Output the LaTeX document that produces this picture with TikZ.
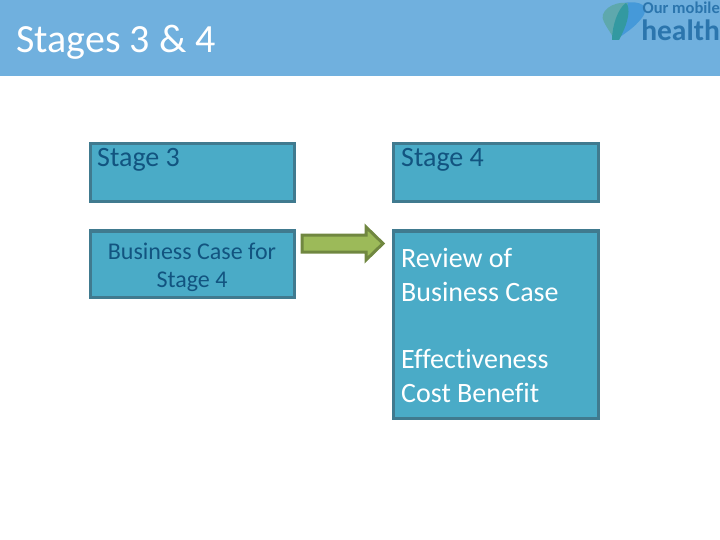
\documentclass[tikz,border=0pt]{standalone}
\usepackage{fontspec}
\setmainfont{Carlito}[Ligatures=NoCommon]
\definecolor{bannerblue}{rgb}{0.44,0.69,0.87}
\definecolor{boxfill}{rgb}{0.29,0.67,0.78}
\definecolor{boxline}{rgb}{0.25,0.48,0.56}
\definecolor{darktext}{rgb}{0.07,0.33,0.50}
\definecolor{arrowfill}{rgb}{0.61,0.73,0.35}
\definecolor{arrowline}{rgb}{0.44,0.53,0.25}
\definecolor{logoblue}{rgb}{0.17,0.46,0.68}
\definecolor{logolight}{rgb}{0.27,0.60,0.85}
\definecolor{logogreen}{rgb}{0.37,0.66,0.68}
\definecolor{logoteal}{rgb}{0.20,0.60,0.63}
\tikzset{
  stagebox/.style={draw=boxline,fill=boxfill,line width=3pt,rectangle},
  stagetext/.style={anchor=base west,inner sep=0pt,font=\fontsize{28}{32}\selectfont},
  casetext/.style={anchor=base,inner sep=0pt,text=darktext,font=\fontsize{24}{28}\selectfont},
}
\begin{document}
\begin{tikzpicture}[x=1pt,y=-1pt]
  \useasboundingbox (0,0) rectangle (720,540);
  \fill[bannerblue] (0,0) rectangle (720,76);
  \node (title) [anchor=base west,inner sep=0pt,text=white,font=\fontsize{40}{44}\selectfont] at (16,52.5) {Stages 3 \& 4};
  % logo
  \fill[logolight] (624,3) .. controls (640,0) and (652,6) .. (641,19) .. controls (634,28) and (625,33) .. (616,40) -- cycle;
  \fill[logogreen] (628,3) .. controls (612,1) and (598,12) .. (604,22) .. controls (608,30) and (612,34) .. (614,40) -- cycle;
  \fill[logoteal] (626,3) .. controls (631,8) and (628,22) .. (622,34) -- (619,40) -- (612,40) .. controls (612,26) and (618,8) .. (626,3) -- cycle;
  \node (logotop) [anchor=base east,inner sep=0pt,text=logoblue,font=\fontsize{16.5}{18}\selectfont\bfseries] at (720,14) {Our mobile};
  \node (logobottom) [anchor=base east,inner sep=0pt,text=logoblue,font=\fontsize{29.5}{34}\selectfont\bfseries] at (720,41) {health};
  % boxes
  \draw[stagebox] (90.5,143.5) rectangle (294.5,201.5);
  \draw[stagebox] (393.5,143.5) rectangle (598,201.5);
  \draw[stagebox] (90.5,231) rectangle (294.5,297.5);
  \draw[stagebox] (393.5,231) rectangle (598,418.5);
  % arrow
  \draw[line width=3pt,draw=arrowline,fill=arrowfill,line join=miter] (302,235) -- (366,235) -- (366,227) -- (383,243.5) -- (366,260) -- (366,252) -- (302,252) -- cycle;
  % texts
  \node (stagethree) [stagetext,text=darktext] at (97,167) {Stage 3};
  \node (stagefour) [stagetext,text=darktext] at (401,167) {Stage 4};
  \node (casea) [casetext] at (192,259) {Business Case for};
  \node (caseb) [casetext] at (192,287) {Stage 4};
  \node (review) [stagetext,text=white] at (401,267) {Review of};
  \node (business) [stagetext,text=white] at (401,301) {Business Case};
  \node (effect) [stagetext,text=white] at (401,368) {Effectiveness};
  \node (cost) [stagetext,text=white] at (401,402) {Cost Benefit};
\end{tikzpicture}
\end{document}
